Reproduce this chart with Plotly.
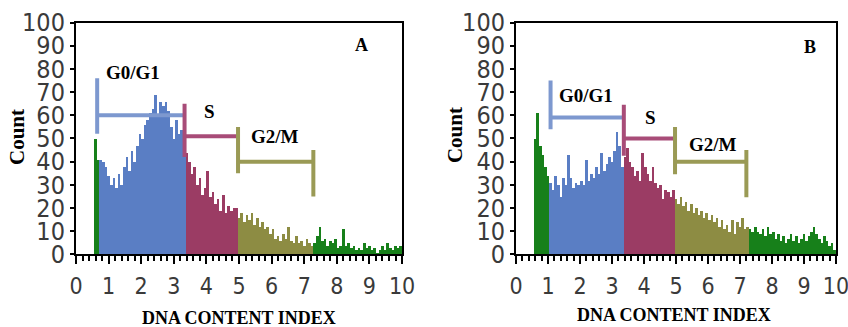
import plotly.graph_objects as go

# ---------------- data ----------------
bin_width = 0.08
x_ticks = list(range(0, 11))
x_tick_labels = [str(v) for v in x_ticks]
y_ticks = list(range(0, 101, 10))
y_tick_labels = [str(v) for v in y_ticks]

phase_names = ["debris", "G0/G1", "S", "G2/M", "high"]
phase_colors = ["#17801a", "#5a7ec4", "#9b3c64", "#8d8c43", "#17801a"]
gate_colors = ["#7d98cf", "#a84c78", "#9a9a55", "#9a9a55"]

# panel A counts (bins of width 0.08 starting at 0)
a_debris = [0, 0, 0, 0, 0, 0, 0, 50, 41]
a_g0g1 = [41, 40, 38, 34, 30, 33, 29, 35, 30, 38, 42, 36, 45, 40, 47, 52, 50, 56,
          58, 61, 63, 69, 60, 66, 64, 66, 62, 55, 50, 58, 52, 54, 46]
a_s = [44, 40, 35, 38, 30, 33, 26, 29, 36, 25, 27, 22, 24, 19, 26, 18, 21, 19, 20, 20]
a_g2m = [16, 18, 14, 17, 15, 18, 13, 16, 12, 14, 11, 12, 9, 11, 7, 8, 6, 9, 7, 12,
         6, 5, 8, 5, 6, 4, 7, 5, 4]
a_high = [5, 8, 12, 6, 7, 4, 6, 5, 7, 3, 4, 11, 4, 5, 3, 4, 2, 3, 2, 5, 3, 4, 2, 3,
          1, 2, 4, 2, 5, 3, 2, 4, 3, 4]

# panel B counts
b_debris = [0, 0, 0, 0, 0, 0, 0, 50, 61, 47, 43, 38, 34]
b_g0g1 = [31, 28, 34, 30, 25, 33, 30, 43, 33, 29, 31, 30, 32, 30, 41, 32, 35, 33,
          38, 35, 44, 36, 39, 42, 40, 45, 53, 47, 38]
b_s = [42, 46, 40, 38, 34, 36, 32, 44, 38, 35, 32, 38, 31, 29, 30, 24, 28, 27, 25, 28]
b_g2m = [24, 22, 25, 21, 23, 19, 22, 18, 20, 17, 19, 16, 18, 15, 17, 14, 16, 12, 15,
         11, 13, 10, 15, 9, 14, 12, 16, 11, 12]
b_high = [11, 10, 12, 10, 9, 11, 8, 12, 9, 10, 7, 9, 6, 8, 5, 7, 9, 6, 8, 5, 7, 9, 6,
          8, 10, 12, 9, 7, 5, 8, 6, 4, 5, 2]

# gates: edges (x), horizontal level (y), vertical bar extents (y0, y1)
gate_labels = ["G0/G1", "S", "G2/M"]
gate_edges_A = [0.65, 3.33, 4.97, 7.28]
gate_levels_A = [60, 51, 40]
gate_bars_A = [(52, 76), (42, 65), (35, 55), (25, 45)]
label_pos_A = [(1.75, 78.5), (4.1, 61.5), (6.1, 51)]

gate_edges_B = [1.08, 3.37, 4.97, 7.2]
gate_levels_B = [59, 50, 40]
gate_bars_B = [(54, 75), (42.5, 64.5), (34.6, 55), (24.7, 45)]
label_pos_B = [(2.2, 68.5), (4.2, 59), (6.15, 47.5)]

panels = [
    dict(name="A", phases=[a_debris, a_g0g1, a_s, a_g2m, a_high], edges=gate_edges_A,
         levels=gate_levels_A, bars=gate_bars_A, labels=label_pos_A, letter=(8.77, 90.5)),
    dict(name="B", phases=[b_debris, b_g0g1, b_s, b_g2m, b_high], edges=gate_edges_B,
         levels=gate_levels_B, bars=gate_bars_B, labels=label_pos_B, letter=(9.2, 89.6)),
]

# ---------------- figure ----------------
fig = go.Figure()
serif = "Liberation Serif, Times New Roman, serif"
sans = "Liberation Sans Narrow, DejaVu Sans Condensed, Liberation Sans, Arial"
ytickfont = dict(family=sans, size=25, color="#3a3a3a")
xtickfont = dict(family=sans, size=23, color="#3a3a3a")

annotations = []
for p_i, p in enumerate(panels):
    xa = "x" if p_i == 0 else "x2"
    ya = "y" if p_i == 0 else "y2"
    start = 0
    for ph_i, vals in enumerate(p["phases"]):
        xs = [(start + k) * bin_width + bin_width / 2 for k in range(len(vals))]
        start += len(vals)
        fig.add_trace(go.Bar(x=xs, y=vals, width=bin_width, xaxis=xa, yaxis=ya,
                             marker=dict(color=phase_colors[ph_i], line=dict(width=0)),
                             name=phase_names[ph_i], showlegend=False, hoverinfo="skip"))
    e = p["edges"]
    for g in range(3):
        fig.add_trace(go.Scatter(x=[e[g], e[g + 1]], y=[p["levels"][g]] * 2, mode="lines",
                                 line=dict(color=gate_colors[g], width=4),
                                 xaxis=xa, yaxis=ya, showlegend=False, hoverinfo="skip"))
    for g in range(4):
        y0, y1 = p["bars"][g]
        fig.add_trace(go.Scatter(x=[e[g], e[g]], y=[y0, y1], mode="lines",
                                 line=dict(color=gate_colors[g], width=4),
                                 xaxis=xa, yaxis=ya, showlegend=False, hoverinfo="skip"))
    for g in range(3):
        lx, ly = p["labels"][g]
        annotations.append(dict(x=lx, y=ly, xref=xa, yref=ya, text=gate_labels[g],
                                showarrow=False, xanchor="center", yanchor="middle",
                                font=dict(family=serif, size=19, color="black", weight="bold")))
    annotations.append(dict(x=p["letter"][0], y=p["letter"][1], xref=xa, yref=ya,
                            text=p["name"], showarrow=False, xanchor="center", yanchor="middle",
                            font=dict(family=serif, size=18, color="black", weight="bold")))

# axis titles
for (cx, cy, tx, ty) in [(0.020, 0.581, 0.2818, 0.026), (0.5366, 0.587, 0.795, 0.036)]:
    annotations.append(dict(x=cx, y=cy, xref="paper", yref="paper", text="Count",
                            textangle=-90, showarrow=False, xanchor="center", yanchor="middle",
                            font=dict(family=serif, size=21, color="black", weight="bold")))
    annotations.append(dict(x=tx, y=ty, xref="paper", yref="paper",
                            text="DNA CONTENT INDEX", showarrow=False,
                            xanchor="center", yanchor="middle",
                            font=dict(family=serif, size=18, color="black", weight="bold")))

xaxis_common = dict(range=[0, 10], tickvals=x_ticks, ticktext=x_tick_labels,
                    ticks="outside", ticklen=8, tickwidth=2, tickcolor="black",
                    minor=dict(dtick=0.2, ticks="outside", ticklen=5, tickwidth=1.5,
                               tickcolor="black"),
                    showline=True, linewidth=2, linecolor="black", mirror=True,
                    showgrid=False, zeroline=False, tickfont=xtickfont,
                    ticklabelstandoff=2, ticklabeloverflow="allow", automargin=False)
yaxis_common = dict(range=[0, 100], tickvals=y_ticks, ticktext=y_tick_labels,
                    ticks="outside", ticklen=4, tickwidth=1.5, tickcolor="black",
                    showline=True, linewidth=2, linecolor="black", mirror=True,
                    showgrid=False, zeroline=False, tickfont=ytickfont,
                    ticklabelstandoff=0, ticklabeloverflow="allow", automargin=False)

fig.update_layout(
    width=848, height=327,
    margin=dict(l=0, r=0, t=0, b=0),
    paper_bgcolor="white", plot_bgcolor="white",
    bargap=0, barmode="overlay",
    xaxis=dict(domain=[0.0896, 0.4741], anchor="y", **xaxis_common),
    yaxis=dict(domain=[0.222, 0.931], anchor="x", **yaxis_common),
    xaxis2=dict(domain=[0.6085, 0.9858], anchor="y2", **xaxis_common),
    yaxis2=dict(domain=[0.222, 0.931], anchor="x2", **yaxis_common),
    annotations=annotations,
)

fig.write_html("out.html", config={"displayModeBar": False},
               post_script="document.body.style.margin='0';")
